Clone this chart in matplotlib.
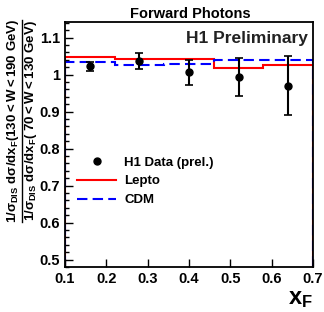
import numpy as np
import matplotlib
matplotlib.use('Agg')
import matplotlib.pyplot as plt
from matplotlib.ticker import MultipleLocator
from matplotlib.lines import Line2D

plt.rcParams['font.family'] = ['Liberation Sans', 'DejaVu Sans']
plt.rcParams['font.weight'] = 'bold'
plt.rcParams['mathtext.fontset'] = 'custom'
plt.rcParams['mathtext.rm'] = 'Liberation Sans:bold'
plt.rcParams['mathtext.it'] = 'Liberation Sans:bold'
plt.rcParams['mathtext.bf'] = 'Liberation Sans:bold'
plt.rcParams['mathtext.sf'] = 'Liberation Sans:bold'

# bin edges in x_F
bin_edges = [0.1, 0.22, 0.34, 0.46, 0.58, 0.7]
lepto = [1.047, 1.042, 1.043, 1.019, 1.027]
cdm = [1.034, 1.026, 1.029, 1.040, 1.040]

# H1 data points
data_x = [0.16, 0.28, 0.40, 0.52, 0.64]
data_y = [1.024, 1.037, 1.006, 0.993, 0.969]
err_up = [1.034, 1.059, 1.039, 1.046, 1.049]
err_dn = [1.009, 1.015, 0.973, 0.941, 0.890]

fig = plt.figure(figsize=(3.24, 3.12), dpi=100)
ax = fig.add_axes([65/324, 1-267/312, 248/324, 245/312])

ax.stairs(lepto, bin_edges, color='red', lw=1.5)
ax.stairs(cdm, bin_edges, color='blue', lw=1.5, ls=(0, (5, 2.5)))

yerr = [np.array(data_y) - np.array(err_dn), np.array(err_up) - np.array(data_y)]
ax.errorbar(data_x, data_y, yerr=yerr, fmt='o', color='black', ms=5,
            elinewidth=1.5, capsize=3, capthick=1.2)

ax.set_xlim(0.1, 0.7)
ax.set_ylim(0.48, 1.142)
ax.yaxis.set_minor_locator(MultipleLocator(0.02))
ax.tick_params(direction='in', which='both', labelsize=10.5)
ax.tick_params(which='major', length=6, width=1)
ax.tick_params(which='minor', length=3, width=1)
ax.set_xticks([0.1, 0.2, 0.3, 0.4, 0.5, 0.6, 0.7])
ax.set_xticklabels(['0.1', '0.2', '0.3', '0.4', '0.5', '0.6', '0.7'])
ax.set_yticks([0.5, 0.6, 0.7, 0.8, 0.9, 1.0, 1.1])
ax.set_yticklabels(['0.5', '0.6', '0.7', '0.8', '0.9', '1', '1.1'])
for s in ax.spines.values():
    s.set_linewidth(1.3)

fig.text(190/324, 1-14/312, 'Forward Photons', ha='center', va='center',
         fontsize=10.5, fontweight='bold')
ax.text(0.98, 0.965, 'H1 Preliminary', transform=ax.transAxes, ha='right', va='top',
        fontsize=12.5, fontweight='bold', color='#222222')

# y label drawn as a fraction: numerator, bar, denominator
yc = 1 - 121/312
fig.text(13/324, yc, r'$1/\sigma_{DIS}\ d\sigma/dx_{F}(130{<}W{<}190\ GeV)$', rotation=90,
         ha='center', va='center', fontsize=9.5)
fig.text(31/324, yc, r'$1/\sigma_{DIS}\ d\sigma/dx_{F}(\ 70{<}W{<}130\ GeV)$', rotation=90,
         ha='center', va='center', fontsize=9.5)
fig.add_artist(Line2D([21.5/324, 21.5/324], [1-222/312, 1-20/312], color='black', lw=1,
                      transform=fig.transFigure))

fig.text(300/324, 1-298/312, r'$\mathbf{x_F}$', ha='center', va='center', fontsize=17)

handles = [Line2D([], [], color='black', marker='o', ms=5, ls='none'),
           Line2D([], [], color='red', lw=1.5),
           Line2D([], [], color='blue', lw=1.5, ls=(0, (5, 2.5)))]
ax.legend(handles, ['H1 Data (prel.)', 'Lepto', 'CDM'], loc='upper left',
          bbox_to_anchor=(0.0, 0.5), frameon=False, fontsize=9.5,
          handlelength=3.0, handletextpad=0.6, labelspacing=0.5)

fig.savefig('out.png', dpi=100)
